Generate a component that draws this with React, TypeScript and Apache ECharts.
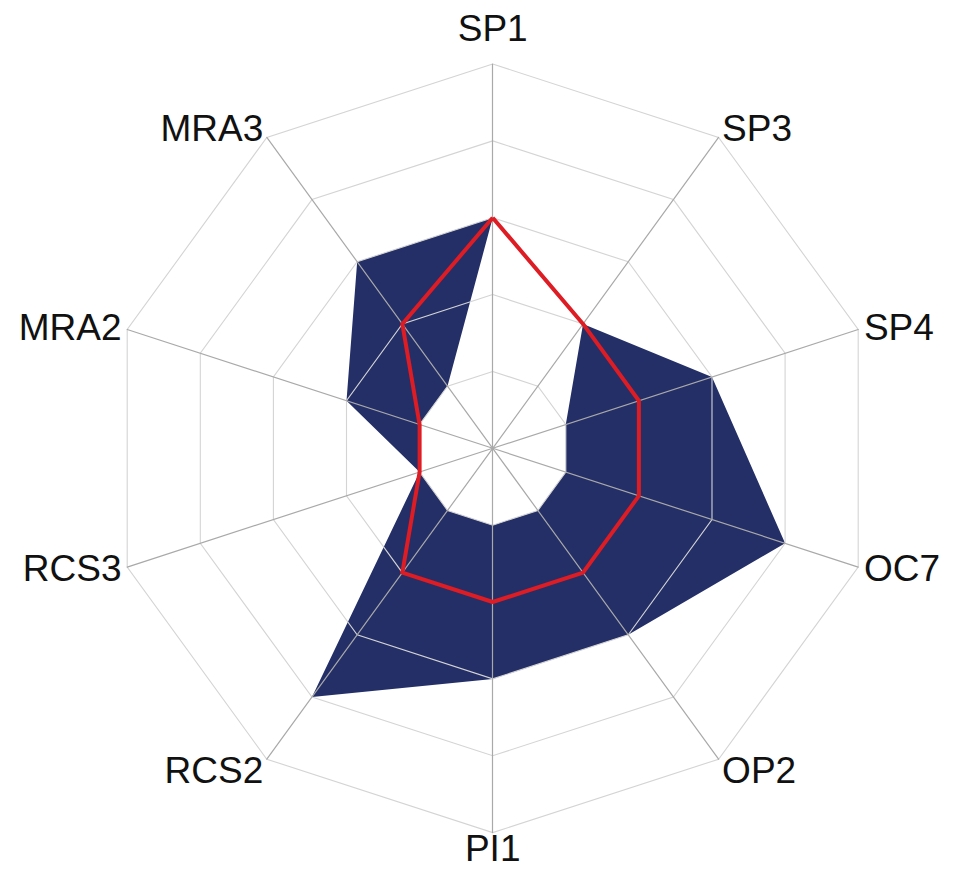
import React, { useEffect, useRef } from "react";
import * as echarts from "echarts";

// Axes in clockwise order starting from the top
const categories = ["SP1", "SP3", "SP4", "OC7", "OP2", "PI1", "RCS2", "RCS3", "MRA2", "MRA3"];
const upperValues = [3, 2, 3, 4, 3, 3, 4, 1, 2, 3];
const medianValues = [3, 2, 2, 2, 2, 2, 2, 1, 1, 2];
const lowerValues = [3, 2, 1, 1, 1, 1, 1, 1, 1, 1];
const axisMax = 5;

// ECharts radar places indicators counter-clockwise; reorder to draw clockwise
const toCcw = <T,>(arr: T[]): T[] => [arr[0], ...arr.slice(1).reverse()];

const FONT = "Liberation Sans, Arial, sans-serif";
const FS = 37;
// label placement style per axis position (clockwise from top)
const labelKinds = ["top", "upper", "side", "side", "lower", "bottom", "lower", "side", "side", "upper"];

export default function App() {
  const ref = useRef<HTMLDivElement>(null);
  useEffect(() => {
    if (!ref.current) return;
    const chart = echarts.init(ref.current, undefined, { renderer: "svg" });
    const indicator = toCcw(categories).map((name) => ({ name, min: 0, max: axisMax }));
    const kindOf: Record<string, string> = {};
    categories.forEach((c, i) => (kindOf[c] = labelKinds[i]));
    const base = { color: "#111111", fontSize: FS, fontFamily: FONT };
    chart.setOption({
      animation: false,
      backgroundColor: "#ffffff",
      radar: {
        z: 3,
        center: [492.7, 448.3],
        radius: 384.3,
        shape: "polygon",
        splitNumber: 5,
        startAngle: 90,
        indicator,
        nameGap: 6,
        axisName: {
          ...base,
          formatter: (name: string) => `{${kindOf[name] || "side"}|${name}}`,
          rich: {
            top: { ...base, padding: [0, 0, 11, 0] },
            upper: { ...base, padding: [0, 0, 9, 0] },
            side: { ...base },
            lower: { ...base, padding: [12, 0, 0, 0] },
            bottom: { ...base, lineHeight: 20 },
          },
        },
        axisLine: { lineStyle: { color: "#a9a9a9", width: 1.2 } },
        splitLine: { lineStyle: { color: "#d4d4d4", width: 1.1 } },
        splitArea: { show: false },
        axisTick: { show: false },
        axisLabel: { show: false },
      },
      series: [
        {
          type: "radar",
          z: 1,
          symbol: "none",
          silent: true,
          data: [
            {
              value: toCcw(upperValues),
              lineStyle: { width: 0, color: "#232f66" },
              areaStyle: { color: "#232f66", opacity: 1 },
            },
          ],
        },
        {
          type: "radar",
          z: 2,
          symbol: "none",
          silent: true,
          data: [
            {
              value: toCcw(lowerValues),
              lineStyle: { width: 0, color: "#ffffff" },
              areaStyle: { color: "#ffffff", opacity: 1 },
            },
          ],
        },
        {
          type: "radar",
          z: 4,
          symbol: "none",
          silent: true,
          data: [
            {
              value: toCcw(medianValues),
              lineStyle: { width: 4, color: "#dd1c24" },
            },
          ],
        },
      ],
    });
    return () => chart.dispose();
  }, []);
  return (
    <div
      ref={ref}
      style={{ position: "fixed", left: 0, top: 0, width: 954, height: 892 }}
    />
  );
}
